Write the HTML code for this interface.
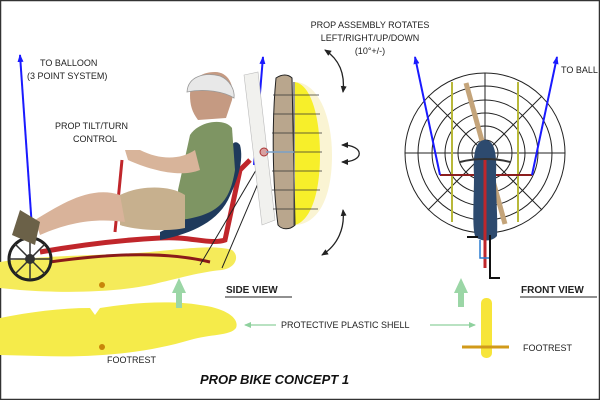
<!DOCTYPE html>
<html><head><meta charset="utf-8"><style>
html,body{margin:0;padding:0;background:#fff}
svg{display:block}
text{font-family:"Liberation Sans",sans-serif;font-size:9px;fill:#222}
</style></head><body>
<svg width="600" height="400" viewBox="0 0 600 400" xmlns="http://www.w3.org/2000/svg">
<defs>
<marker id="ab" markerUnits="userSpaceOnUse" markerWidth="8" markerHeight="6" refX="7" refY="3" orient="auto" viewBox="0 0 8 6"><path d="M0,0 L8,3 L0,6 Z" fill="#1a1aff"/></marker>
<marker id="ak" markerUnits="userSpaceOnUse" markerWidth="7" markerHeight="6" refX="6" refY="3" orient="auto-start-reverse" viewBox="0 0 7 6"><path d="M0,0 L7,3 L0,6 Z" fill="#222"/></marker>
<marker id="ag" markerUnits="userSpaceOnUse" markerWidth="7" markerHeight="6" refX="6" refY="3" orient="auto" viewBox="0 0 7 6"><path d="M0,0 L7,3 L0,6 Z" fill="#8fd19e"/></marker>
</defs>
<rect x="0.5" y="0.5" width="599" height="399" fill="#fff" stroke="#333" stroke-width="1.5"/>

<path d="M0,262 C40,255 100,256 150,252 C190,248 215,245 232,250 C240,256 236,268 222,270 C200,272 180,278 150,285 C110,293 60,293 20,290 L0,288 Z" fill="#f5eb5a"/>
<circle cx="102" cy="285" r="3" fill="#c8860a"/>
<path d="M0,318 C30,312 60,308 90,308 L95,315 L100,308 C130,303 170,300 200,305 C225,308 240,318 236,328 C230,336 210,334 190,340 C150,352 100,358 40,356 L0,355 Z" fill="#f5eb4a"/>
<circle cx="102" cy="347" r="3" fill="#c8860a"/>

<path d="M176,308 L176,293 L172,293 L179,278 L186,293 L182,293 L182,308 Z" fill="#9bd6a6"/>
<path d="M458,307 L458,293 L454,293 L461,278 L468,293 L464,293 L464,307 Z" fill="#9bd6a6"/>

<line x1="32" y1="228" x2="20" y2="55" stroke="#1a1aff" stroke-width="2" marker-end="url(#ab)"/>
<line x1="254" y1="165" x2="263" y2="57" stroke="#1a1aff" stroke-width="2" marker-end="url(#ab)"/>

<path d="M40,252 C80,245 120,240 160,238 C190,236 210,245 225,240 L240,170 L250,160" fill="none" stroke="#c0262b" stroke-width="5"/>
<path d="M50,262 C100,255 160,250 210,262" fill="none" stroke="#8a1a1a" stroke-width="3"/>
<path d="M115,232 L122,160" stroke="#c0262b" stroke-width="3"/>
<path d="M160,240 C185,235 215,225 228,200 C238,180 244,160 240,145 C236,140 232,142 230,150 C225,180 210,210 160,232 Z" fill="#1f3a5c"/>
<circle cx="30" cy="259" r="21" fill="none" stroke="#222" stroke-width="3"/>
<circle cx="30" cy="259" r="5" fill="#333"/>
<path d="M30,238 V280 M9,259 H51 M15,244 L45,274 M45,244 L15,274" stroke="#333" stroke-width="1.5"/>
<path d="M200,265 L262,160 M222,268 L268,160" stroke="#222" stroke-width="1"/>
<path d="M190,135 C200,120 225,118 232,128 L235,170 C230,200 220,215 180,220 L178,190 Z" fill="#7e9563"/>
<path d="M120,195 C140,185 170,185 185,195 L185,228 C165,232 135,230 120,225 Z" fill="#c7b08e"/>
<path d="M120,195 C90,185 60,205 35,220 L40,235 C70,222 95,218 125,222 Z" fill="#d9b39a"/>
<path d="M40,222 L20,210 L12,235 L35,245 Z" fill="#6b6148"/>
<path d="M195,150 C180,160 160,160 140,150 L125,150 L128,160 C150,170 180,178 200,170 Z" fill="#d8b49a"/>
<path d="M190,95 C190,80 200,72 215,72 C228,72 235,85 232,100 L226,118 L198,120 C192,112 190,105 190,95 Z" fill="#c59a82"/>
<path d="M187,92 C188,76 205,72 220,76 C230,80 235,90 234,98 C225,92 205,88 187,92 Z" fill="#e8e8e8" stroke="#999" stroke-width="0.8"/>

<path d="M244,75 L258,72 L275,220 L262,225 Z" fill="#f1f1ee" stroke="#bbb" stroke-width="0.6"/>
<path d="M297,82 C320,85 332,120 332,155 C332,195 320,222 297,225 Z" fill="#f8f0c0" opacity="0.7"/>
<path d="M295,82 C312,85 320,120 320,155 C320,190 312,220 295,225 Z" fill="#f7ef2a"/>
<path d="M276,78 C282,74 288,74 292,78 L295,225 C290,230 282,230 278,225 C272,180 272,120 276,78 Z" fill="#b9a68d" stroke="#222" stroke-width="1"/>
<g stroke="#333" stroke-width="0.8">
<line x1="273" y1="95" x2="319" y2="95"/><line x1="273" y1="114" x2="320" y2="114"/><line x1="272" y1="133" x2="322" y2="133"/><line x1="272" y1="152" x2="322" y2="152"/><line x1="272" y1="171" x2="322" y2="171"/><line x1="272" y1="190" x2="320" y2="190"/><line x1="273" y1="209" x2="318" y2="209"/>
</g>
<line x1="294" y1="82" x2="294" y2="225" stroke="#555" stroke-width="1.2"/>
<circle cx="264" cy="152" r="4" fill="#d9a0a0" stroke="#a33"/>
<line x1="266" y1="152" x2="294" y2="152" stroke="#7aa0c8" stroke-width="1.5"/>

<g fill="none" stroke="#222" stroke-width="1.3">
<path d="M325,50 C340,60 345,75 343,92" marker-start="url(#ak)" marker-end="url(#ak)"/>
<path d="M343,210 C345,228 338,245 322,255" marker-start="url(#ak)" marker-end="url(#ak)"/>
<path d="M342,145 C365,145 365,162 342,162" marker-start="url(#ak)" marker-end="url(#ak)"/>
</g>

<g fill="none" stroke="#222" stroke-width="1">
<circle cx="485" cy="153" r="80"/><circle cx="485" cy="153" r="67"/><circle cx="485" cy="153" r="53"/><circle cx="485" cy="153" r="40"/><circle cx="485" cy="153" r="27"/><circle cx="485" cy="153" r="13"/>
<line x1="405" y1="153" x2="565" y2="153"/><line x1="485" y1="73" x2="485" y2="233"/>
<line x1="428" y1="96" x2="542" y2="210"/><line x1="542" y1="96" x2="428" y2="210"/>
</g>
<line x1="452" y1="82" x2="452" y2="222" stroke="#b8b83a" stroke-width="2"/>
<line x1="518" y1="82" x2="518" y2="222" stroke="#b8b83a" stroke-width="2"/>
<line x1="466" y1="83" x2="505" y2="224" stroke="#c4a47a" stroke-width="5"/>
<line x1="440" y1="175" x2="532" y2="175" stroke="#8b1e1e" stroke-width="2"/>
<line x1="440" y1="175" x2="415" y2="57" stroke="#1a1aff" stroke-width="2" marker-end="url(#ab)"/>
<line x1="532" y1="175" x2="557" y2="57" stroke="#1a1aff" stroke-width="2" marker-end="url(#ab)"/>
<path d="M485,140 C475,140 473,155 474,175 C474,200 472,225 475,236 C480,242 492,242 497,236 C498,220 496,200 496,175 C497,155 495,140 485,140 Z" fill="#2d4a6e"/>
<path d="M460,162 C475,158 495,158 510,162" fill="none" stroke="#333" stroke-width="2"/>
<line x1="485" y1="160" x2="485" y2="268" stroke="#c0262b" stroke-width="3"/>
<path d="M480,240 V258 H490 V270" fill="none" stroke="#2a7bd0" stroke-width="1.5"/>
<path d="M490,235 V278 H500" fill="none" stroke="#111" stroke-width="2"/>
<path d="M467,237 H478" stroke="#111" stroke-width="2"/>

<rect x="481" y="298" width="11" height="60" rx="5" fill="#f7e53a"/>
<line x1="462" y1="347" x2="509" y2="347" stroke="#d19a1a" stroke-width="3"/>

<line x1="276" y1="325" x2="245" y2="325" stroke="#8fd19e" stroke-width="1.2" marker-end="url(#ag)"/>
<line x1="430" y1="325" x2="475" y2="325" stroke="#8fd19e" stroke-width="1.2" marker-end="url(#ag)"/>

<text x="40" y="66">TO BALLOON</text>
<text x="27" y="79">(3 POINT SYSTEM)</text>
<text x="55" y="129">PROP TILT/TURN</text>
<text x="73" y="142">CONTROL</text>
<text x="370" y="28" text-anchor="middle">PROP ASSEMBLY ROTATES</text>
<text x="370" y="41" text-anchor="middle">LEFT/RIGHT/UP/DOWN</text>
<text x="370" y="54" text-anchor="middle">(10°+/-)</text>
<text x="561" y="73">TO BALL</text>
<text x="226" y="293" style="font-weight:bold;font-size:10px">SIDE VIEW</text>
<line x1="225" y1="297" x2="292" y2="297" stroke="#222"/>
<text x="521" y="293" style="font-weight:bold;font-size:10px">FRONT VIEW</text>
<line x1="520" y1="297" x2="597" y2="297" stroke="#222"/>
<text x="281" y="328">PROTECTIVE PLASTIC SHELL</text>
<text x="107" y="363">FOOTREST</text>
<text x="523" y="351">FOOTREST</text>
<text x="200" y="384" style="font-weight:bold;font-style:italic;font-size:13px;fill:#111">PROP BIKE CONCEPT 1</text>
</svg>
</body></html>
